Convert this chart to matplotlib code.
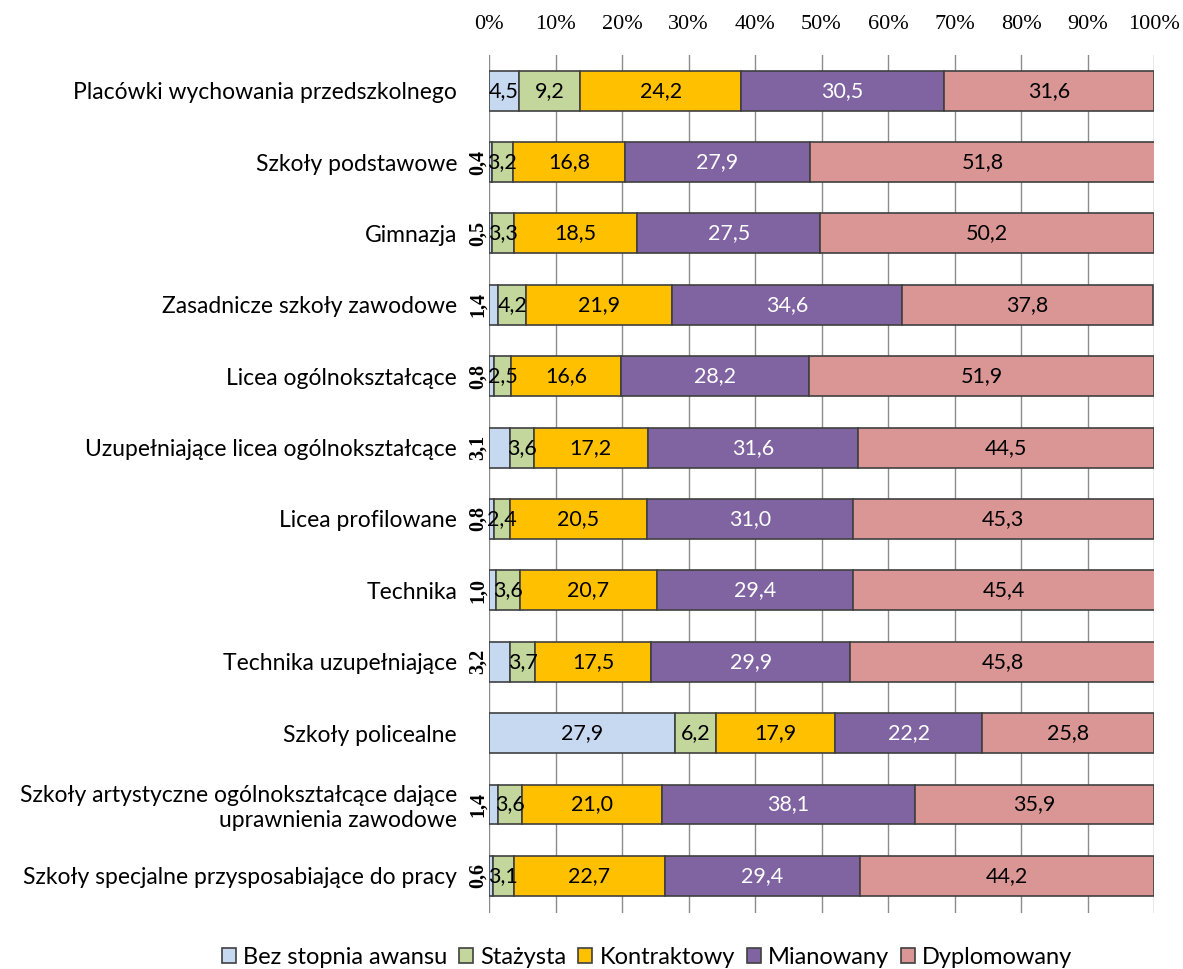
import numpy as np
import matplotlib.pyplot as plt

kategorie = ["Placówki wychowania przedszkolnego", "Szkoły podstawowe", "Gimnazja",
             "Zasadnicze szkoły zawodowe", "Licea ogólnokształcące",
             "Uzupełniające licea ogólnokształcące", "Licea profilowane", "Technika",
             "Technika uzupełniające", "Szkoły policealne",
             "Szkoły artystyczne ogólnokształcące dające\nuprawnienia zawodowe",
             "Szkoły specjalne przysposabiające do pracy"]

bez_stopnia = [4.5, 0.4, 0.5, 1.4, 0.8, 3.1, 0.8, 1.0, 3.2, 27.9, 1.4, 0.6]
stazysta = [9.2, 3.2, 3.3, 4.2, 2.5, 3.6, 2.4, 3.6, 3.7, 6.2, 3.6, 3.1]
kontraktowy = [24.2, 16.8, 18.5, 21.9, 16.6, 17.2, 20.5, 20.7, 17.5, 17.9, 21.0, 22.7]
mianowany = [30.5, 27.9, 27.5, 34.6, 28.2, 31.6, 31.0, 29.4, 29.9, 22.2, 38.1, 29.4]
dyplomowany = [31.6, 51.8, 50.2, 37.8, 51.9, 44.5, 45.3, 45.4, 45.8, 25.8, 35.9, 44.2]

serie = ["Bez stopnia awansu", "Stażysta", "Kontraktowy", "Mianowany", "Dyplomowany"]
kolory = ["#C6D9F1", "#C3D69B", "#FFC000", "#8064A2", "#D99694"]
kolor_tekstu = ["black", "black", "black", "white", "black"]

dane = [bez_stopnia, stazysta, kontraktowy, mianowany, dyplomowany]

fig = plt.figure(figsize=(11.83, 9.69), dpi=100)
ax = fig.add_axes([0.4134, 0.0578, 0.5621, 0.8854])

y = np.arange(len(kategorie))
lewo = np.zeros(len(kategorie))
for s, wart in enumerate(dane):
    wart = np.array(wart)
    ax.barh(y, wart, left=lewo, height=0.56, color=kolory[s], edgecolor="#404040",
            linewidth=1.2, label=serie[s], zorder=3)
    for i in range(len(y)):
        txt = f"{wart[i]:.1f}".replace(".", ",")
        if s == 0 and wart[i] < 4:
            ax.text(lewo[i] - 0.2, y[i], txt, rotation=90, ha="right", va="center",
                    fontsize=14.5, family="Liberation Serif", weight="bold", color="black")
        else:
            ax.text(lewo[i] + wart[i] / 2, y[i], txt, ha="center", va="center",
                    fontsize=15.5, family="Lato", color=kolor_tekstu[s], zorder=4)
    lewo += wart

ax.set_xlim(0, 100)
ax.set_ylim(11.52, -0.5)
ax.set_xticks(np.arange(0, 101, 10))
ax.set_xticklabels([f"{v}%" for v in range(0, 101, 10)], family="Liberation Serif",
                   fontsize=16)
ax.xaxis.tick_top()
ax.tick_params(axis="x", length=0, pad=15)
ax.tick_params(axis="y", length=0, pad=23)
ax.set_yticks(y)
ax.set_yticklabels(kategorie, family="Lato", fontsize=16.5)
ax.grid(axis="x", color="#8C8C8C", linewidth=1.0, zorder=0)
for sp in ax.spines.values():
    sp.set_visible(False)

fig.legend(loc="center", bbox_to_anchor=(647 / 1183, 1 - 957 / 969), ncol=5,
           frameon=False, prop={"family": "Lato", "size": 17}, handlelength=0.6,
           handleheight=0.6, handletextpad=0.3, columnspacing=0.5)

fig.savefig("out.png", dpi=100)
